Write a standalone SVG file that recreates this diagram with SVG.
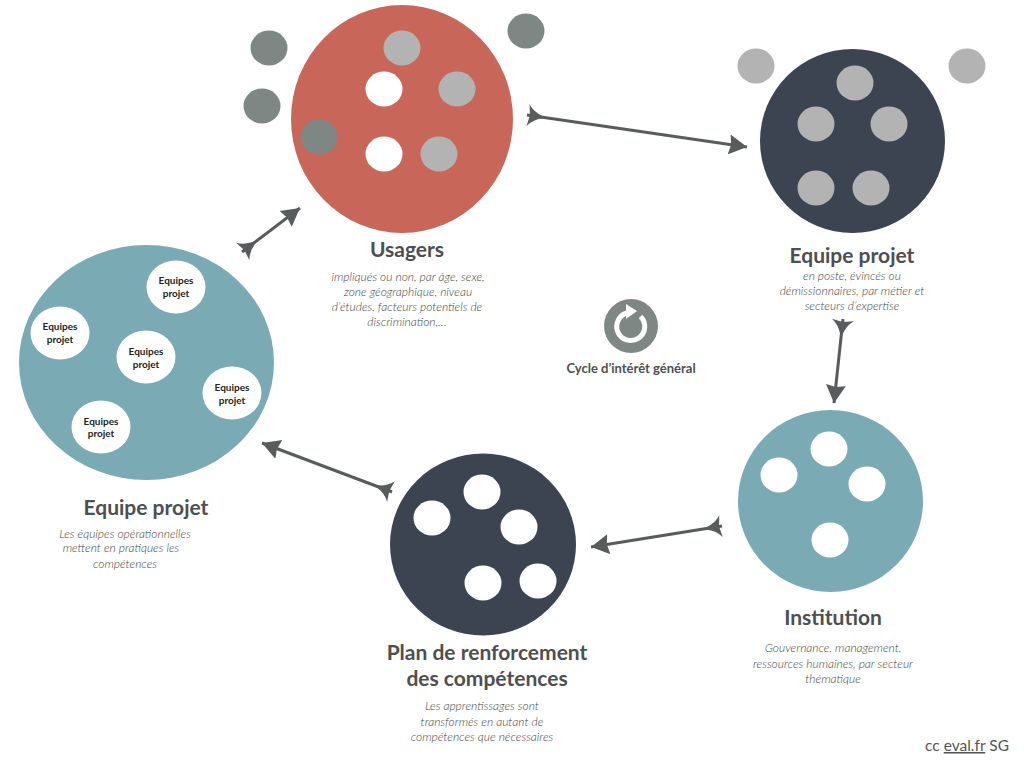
<svg xmlns="http://www.w3.org/2000/svg" width="1024" height="768" viewBox="0 0 1024 768">
<style>
text{font-family:"Lato","Open Sans",sans-serif;text-anchor:middle}
.t{font-size:21px;font-weight:700;fill:#4d4f50}
.d{font-size:12px;font-style:italic;font-weight:300;fill:#444}
.e{font-size:10px;font-weight:700;fill:#222}
.w{fill:#fff}.g{fill:#b3b3b3}.k{fill:#7f8784}
.red{fill:#c8665a}.navy{fill:#3c4452}.teal{fill:#7aaab4}
.c{fill:none;stroke:#585c5c;stroke-width:3;marker-start:url(#tail);marker-end:url(#head)}
</style>
<defs>
<marker id="head" markerUnits="userSpaceOnUse" markerWidth="20" markerHeight="22" refX="18" refY="11" orient="auto"><path d="M0 1L18 11L0 21L2 11Z" fill="#585c5c"/></marker>
<marker id="tail" markerUnits="userSpaceOnUse" markerWidth="18" markerHeight="24" refX="0" refY="12" orient="auto"><path d="M1 1Q6 8 16 11V13Q6 16 1 23L3 12Z" fill="#585c5c"/></marker>
</defs>
<g id="connectors">
<path class="c" d="M527 115L747 147"/>
<path class="c" d="M242 252L300 208"/>
<path class="c" d="M843 319L834 403"/>
<path class="c" d="M722 526L591 547"/>
<path class="c" d="M392 492L262 443"/>
</g>
<g id="usagers">
<ellipse class="red" cx="402" cy="119" rx="111" ry="114"/>
<ellipse class="g" cx="402" cy="48" rx="18.5" ry="17.5"/>
<ellipse class="w" cx="384" cy="89" rx="18.5" ry="17.5"/>
<ellipse class="g" cx="457" cy="89" rx="18.5" ry="17.5"/>
<ellipse class="k" cx="319" cy="137" rx="18.5" ry="17.5"/>
<ellipse class="w" cx="384" cy="154" rx="18.5" ry="17.5"/>
<ellipse class="g" cx="439" cy="154" rx="18.5" ry="17.5"/>
<ellipse class="k" cx="269" cy="48" rx="18.5" ry="17.5"/>
<ellipse class="k" cx="262" cy="106" rx="18.5" ry="17.5"/>
<ellipse class="k" cx="526" cy="31" rx="18.5" ry="17.5"/>
<text class="t" x="407" y="257">Usagers</text>
<text class="d" x="408" y="281">impliqués ou non, par âge, sexe,</text>
<text class="d" x="408" y="296">zone géographique, niveau</text>
<text class="d" x="407" y="311">d’études, facteurs potentiels de</text>
<text class="d" x="407" y="326">discrimination,…</text>
</g>
<g id="equipe-projet-haut">
<ellipse class="navy" cx="852.500" cy="141" rx="92.500" ry="92"/>
<ellipse class="g" cx="855" cy="83" rx="18.500" ry="17.500"/>
<ellipse class="g" cx="816" cy="124" rx="18.500" ry="17.500"/>
<ellipse class="g" cx="889" cy="124" rx="18.500" ry="17.500"/>
<ellipse class="g" cx="816" cy="188" rx="18.500" ry="17.500"/>
<ellipse class="g" cx="871" cy="188" rx="18.500" ry="17.500"/>
<ellipse class="g" cx="756" cy="66" rx="18.500" ry="17.500"/>
<ellipse class="g" cx="967" cy="66" rx="18.500" ry="17.500"/>
<text class="t" x="852" y="263">Equipe projet</text>
<text class="d" x="852" y="280">en poste, évincés ou</text>
<text class="d" x="852" y="295">démissionnaires, par métier et</text>
<text class="d" x="852" y="310">secteurs d’expertise</text>
</g>
<g id="institution">
<ellipse class="teal" cx="830.500" cy="501" rx="92.500" ry="91"/>
<ellipse class="w" cx="829" cy="449" rx="18.500" ry="17.500"/>
<ellipse class="w" cx="779" cy="475" rx="18.500" ry="17.500"/>
<ellipse class="w" cx="867" cy="484" rx="18.500" ry="17.500"/>
<ellipse class="w" cx="830" cy="540" rx="18.500" ry="17.500"/>
<text class="t" x="833" y="625">Institution</text>
<text class="d" x="833" y="652">Gouvernance, management,</text>
<text class="d" x="833" y="668">ressources humaines, par secteur</text>
<text class="d" x="833" y="683">thématique</text>
</g>
<g id="plan">
<ellipse class="navy" cx="483" cy="544.500" rx="93" ry="91"/>
<ellipse class="w" cx="482" cy="492" rx="18.500" ry="17.500"/>
<ellipse class="w" cx="432" cy="518" rx="18.500" ry="17.500"/>
<ellipse class="w" cx="519" cy="527" rx="18.500" ry="17.500"/>
<ellipse class="w" cx="483" cy="583" rx="18.500" ry="17.500"/>
<ellipse class="w" cx="538" cy="581" rx="18.500" ry="17.500"/>
<text class="t" x="487" y="660">Plan de renforcement</text>
<text class="t" x="487" y="686">des compétences</text>
<text class="d" x="482" y="710">Les apprentissages sont</text>
<text class="d" x="482" y="726">transformés en autant de</text>
<text class="d" x="482" y="741">compétences que nécessaires</text>
</g>
<g id="equipes">
<ellipse class="teal" cx="146.500" cy="362.500" rx="127.500" ry="117.500"/>
<ellipse class="w" cx="176" cy="287" rx="29.500" ry="26.500"/>
<ellipse class="w" cx="60" cy="333" rx="29.500" ry="26.500"/>
<ellipse class="w" cx="146" cy="357" rx="29.500" ry="26.500"/>
<ellipse class="w" cx="232" cy="393" rx="29.500" ry="26.500"/>
<ellipse class="w" cx="101" cy="427" rx="29.500" ry="26.500"/>
<text class="e" x="176" y="284">Equipes</text><text class="e" x="176" y="297">projet</text>
<text class="e" x="60" y="330">Equipes</text><text class="e" x="60" y="343">projet</text>
<text class="e" x="146" y="355">Equipes</text><text class="e" x="146" y="368">projet</text>
<text class="e" x="232" y="391">Equipes</text><text class="e" x="232" y="404">projet</text>
<text class="e" x="101" y="425">Equipes</text><text class="e" x="101" y="437">projet</text>
<text class="t" x="146" y="515">Equipe projet</text>
<text class="d" x="125" y="538">Les équipes opérationnelles</text>
<text class="d" x="121" y="552">mettent en pratiques les</text>
<text class="d" x="125" y="568">compétences</text>
</g>
<g id="cycle">
<circle class="k" cx="631" cy="326" r="27"/>
<path d="M628 312.800A14 14 0 1 0 640.500 316.500" fill="none" stroke="#fff" stroke-width="5"/>
<path d="M626 304L637 311L626 319Z" fill="#fff"/>
<text x="631" y="373" font-size="13px" font-weight="700" fill="#4d4f50">Cycle d’intérêt général</text>
</g>
<text x="967" y="751" font-size="15.500px" fill="#555">cc <tspan text-decoration="underline">eval.fr</tspan> SG</text>
</svg>
